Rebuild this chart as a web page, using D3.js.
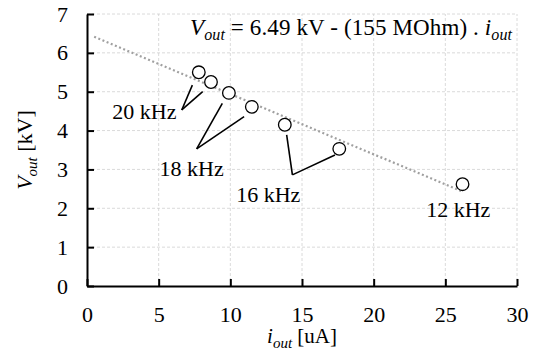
<!DOCTYPE html>
<html>
<head>
<meta charset="utf-8">
<script src="https://cdn.jsdelivr.net/npm/d3@7"></script>
</head>
<body style="margin:0">
<div id="chart"></div>
<script>
// measured points (iout in uA, Vout in kV)
const iout = [7.8, 8.65, 9.9, 11.5, 13.8, 17.6, 26.2];
const vout = [5.5, 5.25, 4.97, 4.61, 4.15, 3.53, 2.62];

// linear fit Vout = 6.49 - 0.155 * iout
const fitX = [0.5, 26.1];
const fitA = 6.49, fitB = 0.155;

const xTicks = [0, 5, 10, 15, 20, 25, 30];
const yTicks = [0, 1, 2, 3, 4, 5, 6, 7];

// frequency labels: text position and leader lines (apex -> point)
const freqLabels = ["20 kHz", "18 kHz", "16 kHz", "12 kHz"];
const labelX = [4.0, 7.3, 12.65, 25.9];
const labelY = [4.3, 2.83, 2.17, 1.78];
const leaderApex = [[6.61, 4.53], [7.65, 3.53], [14.33, 2.86], null];
const leaderEnds = [
  [[7.35, 5.17], [8.07, 5.0]],
  [[9.44, 4.70], [10.96, 4.36]],
  [[13.93, 3.89], [17.3, 3.37]],
  []
];

const FONT = "Liberation Serif";
const width = 536, height = 356;
const margin = {left: 87, right: 19, top: 14, bottom: 70};

const x = d3.scaleLinear().domain([0, 30]).range([margin.left, width - margin.right]);
const y = d3.scaleLinear().domain([0, 7]).range([height - margin.bottom, margin.top]);

const svg = d3.select("#chart").append("svg")
  .attr("width", width).attr("height", height);

// grid
svg.append("g").selectAll("line").data(xTicks.slice(1)).join("line")
  .attr("x1", d => x(d)).attr("x2", d => x(d))
  .attr("y1", y(0)).attr("y2", y(7))
  .attr("stroke", "#d0d0d0").attr("stroke-width", 0.8).attr("stroke-dasharray", "3,2");
svg.append("g").selectAll("line").data(yTicks.slice(1)).join("line")
  .attr("x1", x(0)).attr("x2", x(30))
  .attr("y1", d => y(d)).attr("y2", d => y(d))
  .attr("stroke", "#d0d0d0").attr("stroke-width", 0.8).attr("stroke-dasharray", "3,2");

// axes (ticks inward)
const xAxis = svg.append("g")
  .attr("transform", `translate(0,${y(0)})`)
  .call(d3.axisBottom(x).tickValues(xTicks).tickFormat(d3.format("d"))
    .tickSizeInner(-7).tickSizeOuter(0).tickPadding(20));
const yAxis = svg.append("g")
  .attr("transform", `translate(${x(0)},0)`)
  .call(d3.axisLeft(y).tickValues(yTicks).tickFormat(d3.format("d"))
    .tickSizeInner(-7).tickSizeOuter(0).tickPadding(19));
[xAxis, yAxis].forEach(g => {
  g.attr("font-family", null).attr("font-size", null);
  g.select(".domain").attr("stroke", "#000").attr("stroke-width", 2);
  g.selectAll(".tick line").attr("stroke", "#000").attr("stroke-width", 2);
  g.selectAll(".tick text").attr("fill", "#000").attr("font-size", 22);
});
xAxis.selectAll(".tick text").attr("dy", "0.71em");

// fit line
svg.append("line")
  .attr("x1", x(fitX[0])).attr("y1", y(fitA - fitB * fitX[0]))
  .attr("x2", x(fitX[1])).attr("y2", y(fitA - fitB * fitX[1]))
  .attr("stroke", "#a0a0a0").attr("stroke-width", 2.2).attr("stroke-dasharray", "2,2.5");

// leader lines
leaderApex.forEach((a, i) => {
  if (!a) return;
  leaderEnds[i].forEach(e => {
    svg.append("line")
      .attr("x1", x(a[0])).attr("y1", y(a[1]))
      .attr("x2", x(e[0])).attr("y2", y(e[1]))
      .attr("stroke", "#000").attr("stroke-width", 1.6);
  });
});

// points
svg.append("g").selectAll("circle").data(iout).join("circle")
  .attr("cx", d => x(d)).attr("cy", (d, i) => y(vout[i]))
  .attr("r", 6.3)
  .attr("fill", "#fff").attr("stroke", "#000").attr("stroke-width", 1.3);

// frequency labels
svg.append("g").selectAll("text").data(freqLabels).join("text")
  .attr("x", (d, i) => x(labelX[i])).attr("y", (d, i) => y(labelY[i]))
  .attr("text-anchor", "middle").attr("font-size", 22)
  .text(d => d);

// equation
const eq = svg.append("text").attr("x", 190).attr("y", 35).attr("font-size", 23)
  .attr("textLength", 322).attr("lengthAdjust", "spacing");
eq.append("tspan").attr("font-style", "italic").text("V");
eq.append("tspan").attr("font-style", "italic").attr("font-size", 16).attr("dy", 5).text("out");
eq.append("tspan").attr("dy", -5).text(" = 6.49 kV - (155 MOhm) . ");
eq.append("tspan").attr("font-style", "italic").text("i");
eq.append("tspan").attr("font-style", "italic").attr("font-size", 16).attr("dy", 5).text("out");

// axis titles
const xt = svg.append("text").attr("x", (x(0) + x(30)) / 2).attr("y", 343)
  .attr("text-anchor", "middle").attr("font-size", 21);
xt.append("tspan").attr("font-style", "italic").text("i");
xt.append("tspan").attr("font-style", "italic").attr("font-size", 15).attr("dy", 5).text("out");
xt.append("tspan").attr("dy", -5).text(" [uA]");

const yt = svg.append("text")
  .attr("transform", `translate(32,${(y(0) + y(7)) / 2}) rotate(-90)`)
  .attr("text-anchor", "middle").attr("font-size", 22);
yt.append("tspan").attr("font-style", "italic").text("V");
yt.append("tspan").attr("font-style", "italic").attr("font-size", 15).attr("dy", 5).text("out");
yt.append("tspan").attr("dy", -5).text(" [kV]");

svg.selectAll("text").attr("font-family", FONT);
</script>
</body>
</html>
